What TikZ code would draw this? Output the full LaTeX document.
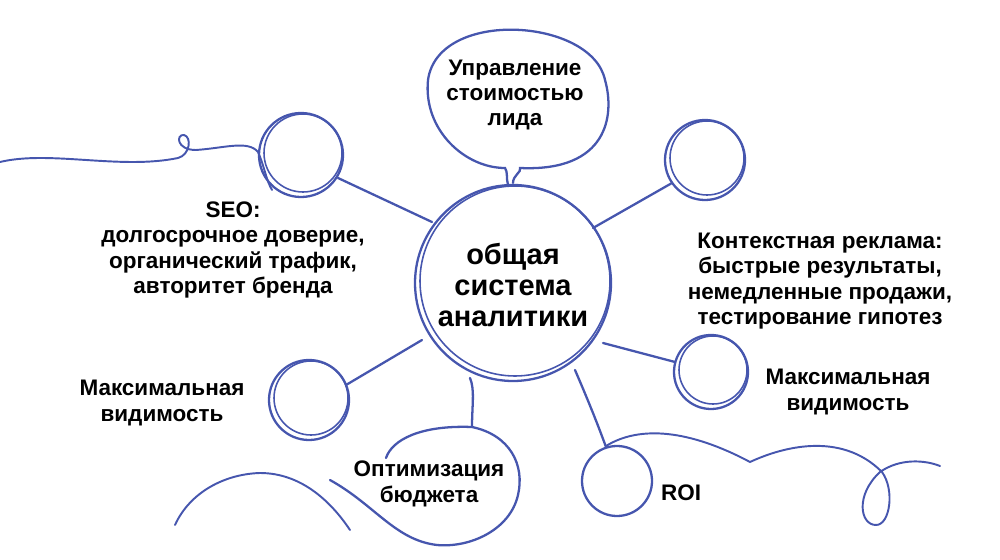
\documentclass[tikz,border=0pt]{standalone}
\usepackage{fontspec}
\setmainfont{Liberation Sans}
\definecolor{ink}{HTML}{4656AE}
\begin{document}
\begin{tikzpicture}[x=0.02cm,y=-0.02cm,
  ln/.style={draw=ink,line width=1.3pt,line cap=round},
  thin/.style={draw=ink,line width=0.9pt,line cap=round},
  lbl/.style={font=\fontsize{12.8}{14.4}\selectfont\bfseries,align=center,text=black},
  big/.style={font=\fontsize{16.5}{17.5}\selectfont\bfseries,align=center,text=black}]
\useasboundingbox (0,0) rectangle (1000,560);
% central circle
\draw[ln] (513,283) circle (98);
\draw[thin] (515,281) circle (95);
\node[big] (ct) at (513,285) {общая\\система\\аналитики};
% top bubble
\draw[ln] (513,183) .. controls (513,175) and (522,172) .. (520,168)
  .. controls (608,172) and (615,115) .. (605,80)
  .. controls (592,18) and (438,8) .. (428,80)
  .. controls (423,130) and (465,168) .. (505,168)
  .. controls (508,172) and (506,178) .. (508,185);
\node[lbl] (t1) at (515,95) {Управление\\стоимостью\\лида};
% small circles
\draw[ln] (301,155) circle (42); \draw[thin] (303,153) circle (39);
\draw[ln] (705,160) circle (40); \draw[thin] (707,158) circle (37);
\draw[ln] (309,400) circle (40); \draw[thin] (311,398) circle (37);
\draw[ln] (711,372) circle (37); \draw[thin] (713,370) circle (34);
\draw[ln] (617,481) circle (35);
% connectors
\draw[ln] (338,178) -- (432,222);
\draw[ln] (672,183) -- (593,228);
\draw[ln] (346,385) -- (422,340);
\draw[ln] (675,362) -- (603,343);
\draw[ln] (575,370) .. controls (588,400) and (598,425) .. (606,447);
\draw[ln] (470,378) .. controls (475,390) and (472,405) .. (472,427);
% bottom center bubble
\draw[ln] (386,458) .. controls (392,440) and (420,425) .. (472,427)
  .. controls (510,435) and (525,465) .. (518,495)
  .. controls (510,530) and (470,548) .. (437,545)
  .. controls (395,540) and (375,505) .. (330,480);
\node[lbl] (ob) at (429,484) {Оптимизация\\бюджета};
% decorative lines
\draw[thin,line width=1.1pt] (0,162) .. controls (50,150) and (120,170) .. (178,158)
  .. controls (190,155) and (192,137) .. (184,135)
  .. controls (176,134) and (176,150) .. (196,150)
  .. controls (225,148) and (248,140) .. (258,152)
  .. controls (264,165) and (266,180) .. (272,190);
\draw[thin,line width=1.1pt] (175,525) .. controls (190,492) and (225,474) .. (260,473)
  .. controls (300,473) and (330,500) .. (350,530);
\draw[thin,line width=1.1pt] (606,446) .. controls (640,425) and (690,430) .. (750,462)
  .. controls (780,448) and (840,430) .. (882,472)
  .. controls (895,490) and (890,525) .. (876,525)
  .. controls (860,525) and (855,495) .. (880,472)
  .. controls (900,458) and (925,460) .. (940,466);
% labels
\node[lbl] (seo) at (233,250) {SEO:\\долгосрочное доверие,\\органический трафик,\\авторитет бренда};
\node[lbl] (ctx) at (820,281) {Контекстная реклама:\\быстрые результаты,\\немедленные продажи,\\тестирование гипотез};
\node[lbl] (mvl) at (162,403) {Максимальная\\видимость};
\node[lbl] (mvr) at (848,392) {Максимальная\\видимость};
\node[lbl] (r) at (681,493) {ROI};
\end{tikzpicture}
\end{document}
